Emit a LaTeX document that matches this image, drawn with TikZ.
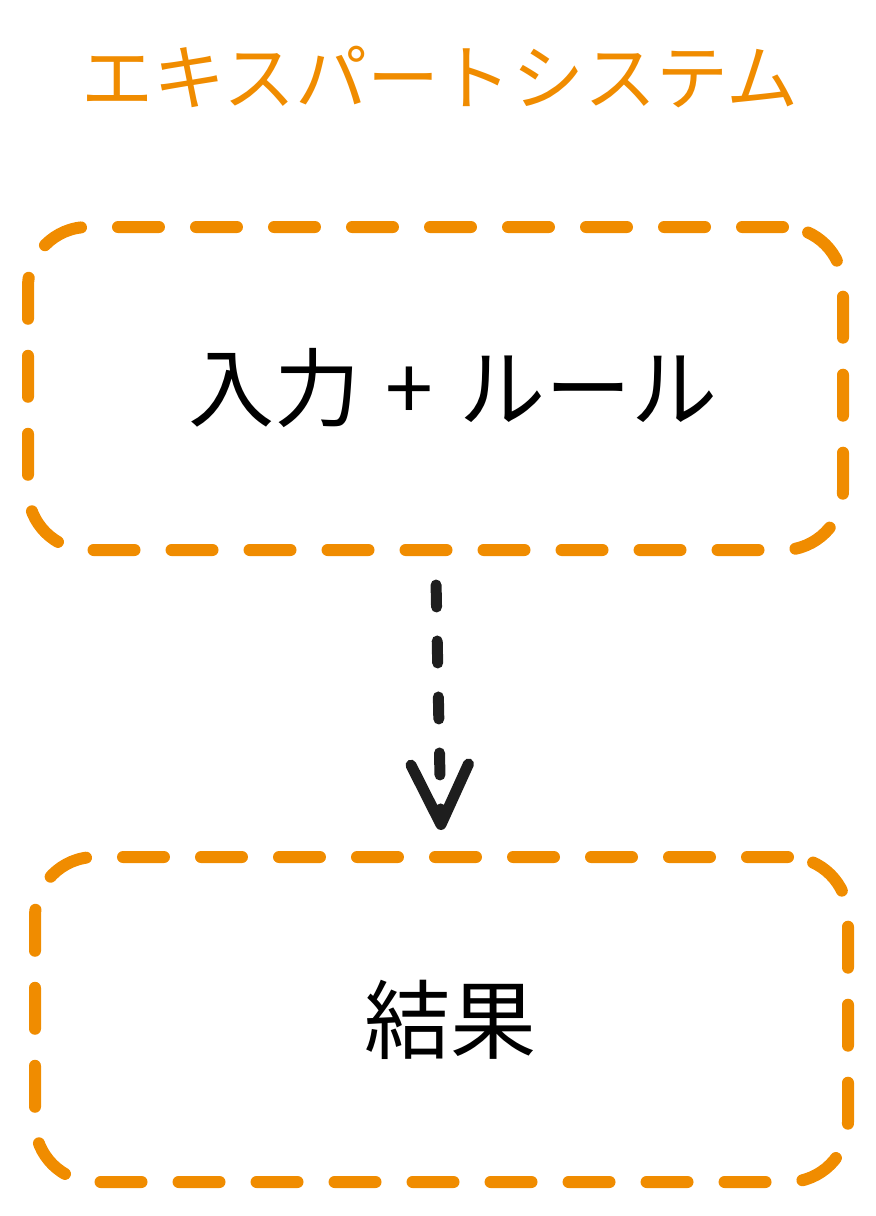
\documentclass[tikz,border=0pt]{standalone}
\usepackage{fontspec}
\setmainfont{Noto Sans CJK JP}
\usepackage{xcolor}
\usetikzlibrary{arrows.meta}
\definecolor{exorange}{HTML}{F08C00}
\definecolor{exblack}{HTML}{1E1E1E}
\tikzset{
    stagebox/.style={draw=exorange, line width=0.24cm, line cap=round, rounded corners=1.2cm,
        dash pattern=on 0.82cm off 0.74cm, font=\fontsize{49}{56}\selectfont, text=black},
    flow/.style={draw=exblack, line width=0.22cm, line cap=round, dash pattern=on 0.44cm off 0.68cm,
        -{Straight Barb[length=1.2cm, width=1.15cm, line cap=round, line join=round]}}
}
\begin{document}
\begin{tikzpicture}
        \useasboundingbox (0,0) rectangle (17.52,-24.32);
        \node[text=exorange, font=\fontsize{41}{48}\selectfont] (title) at (8.8, -1.55) {エキスパートシステム};
        \node[stagebox, minimum width=16.3cm, minimum height=6.46cm] (rules) at (8.71, -7.77)
            {\hspace*{0.7cm}入力\hspace{0.12cm} + \hspace{0.14cm}ルール};
        \node[stagebox, minimum width=16.26cm, minimum height=6.5cm] (result) at (8.83, -20.39)
            {\hspace*{0.35cm}結果};

        \draw[flow, shorten <=0.58cm, shorten >=0.42cm] (rules.south) -- (result.north);
    \end{tikzpicture}
\end{document}
